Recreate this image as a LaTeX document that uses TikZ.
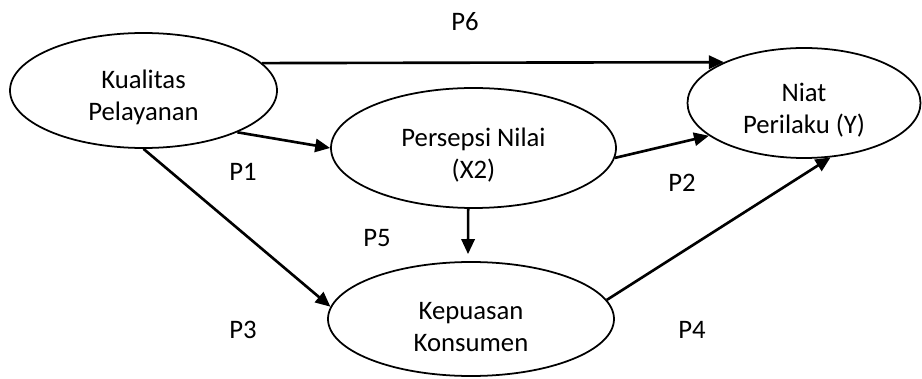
\documentclass[tikz,border=0pt]{standalone}
\usepackage{fontspec}
\setmainfont{Carlito}
\usetikzlibrary{arrows.meta,shapes.geometric}

\begin{document}
\begin{tikzpicture}
            [line width=1.5pt,every node/.style={font=\fontsize{15.2}{18.2}\selectfont},
             var/.style={ellipse,draw,line width=1pt,align=center,inner sep=0pt},
             arr/.style={-{Triangle[length=8.5pt,width=7.5pt]}}]
            \useasboundingbox (0,0) rectangle (18.44,7.56);
            \node[var,minimum width=5.34cm,minimum height=2.3cm] (kualitas) at (2.87,5.75) {\rule{0pt}{0.65cm}Kualitas\\Pelayanan};
            \node[var,minimum width=5.7cm,minimum height=2.4cm] (persepsi) at (9.47,4.6) {\rule{0pt}{0.65cm}Persepsi Nilai\\(X2)};
            \node[var,minimum width=4.66cm,minimum height=2.2cm] (niat) at (16.08,5.5) {\rule{0pt}{0.65cm}Niat\\Perilaku (Y)};
            \node[var,minimum width=5.72cm,minimum height=2.28cm] (kepuasan) at (9.42,1.18) {\rule{0pt}{0.65cm}Kepuasan\\Konsumen};
            %
            \node (p6) at (9.3,7.12) {P6};
            \node (p1) at (4.86,4.12) {P1};
            \node (p2) at (13.64,3.9) {P2};
            \node (p5) at (7.54,2.8) {P5};
            \node (p3) at (4.86,0.96) {P3};
            \node (p4) at (13.84,0.96) {P4};
            %
            \draw[arr] (kualitas.13) -- (niat.153);
            \draw[arr] (kualitas.-24) -- (persepsi.180);
            \draw[arr] (persepsi.-4) -- (niat.199);
            \draw[arr] (kualitas.-90) -- (kepuasan.175);
            \draw[arr,shorten >=4pt] (persepsi.265) -- (kepuasan.93);
            \draw[arr] (kepuasan.8) -- (niat.-64);
\end{tikzpicture}
\end{document}
